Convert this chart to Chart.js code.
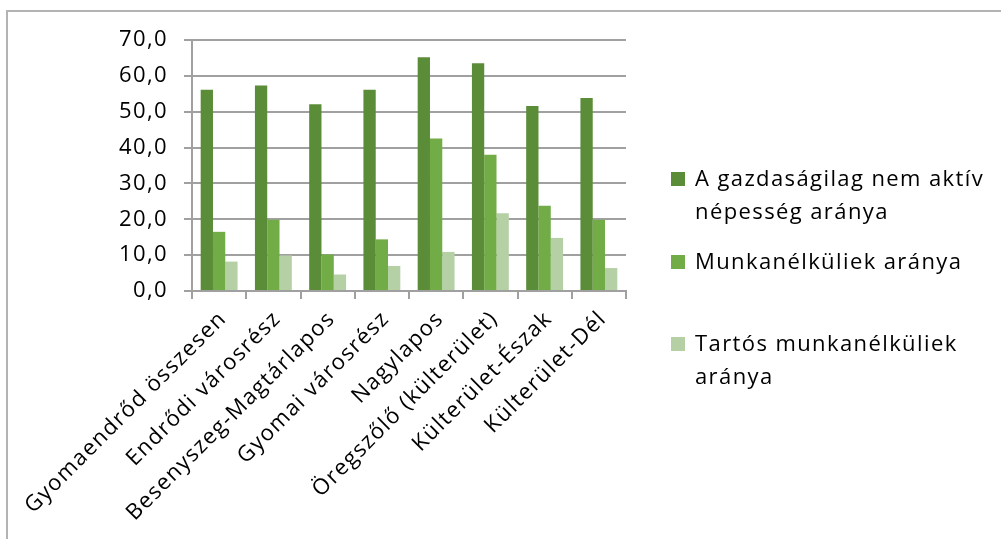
<!DOCTYPE html>
<html>
<head>
<meta charset="utf-8">
<script src="https://cdn.jsdelivr.net/npm/chart.js@4/dist/chart.umd.min.js"></script>
<style>
  body { margin: 0; background: #fff; }
  #wrap { position: relative; width: 1001px; height: 539px; overflow: hidden; }
  #frame { position: absolute; left: 6px; top: 10px; width: 1100px; height: 700px;
           border: 2px solid #b3b3b3; box-sizing: border-box; }
  #chart { position: absolute; left: 0; top: 0; }
  .leg { position: absolute; left: 671px; font-family: 'Open Sans', sans-serif; font-size: 22px;
         font-weight: 500; line-height: 33px; color: #000; letter-spacing: 1.4px; }
  .leg i { position: absolute; left: 0; width: 14px; height: 14px; }
  .leg span { position: absolute; left: 24px; top: 0; width: 320px; }
</style>
</head>
<body>
<div id="wrap">
  <div id="frame"></div>
  <canvas id="chart" width="1001" height="539"></canvas>
  <div id="legend"></div>
</div>
<script>
// településrészek
const kategoriak = [
  'Gyomaendrőd összesen', 'Endrődi városrész', 'Besenyszeg-Magtárlapos', 'Gyomai városrész',
  'Nagylapos', 'Öregszőlő (külterület)', 'Külterület-Észak', 'Külterület-Dél'
];

const nemAktiv = [56.1, 57.3, 52.1, 56.1, 65.2, 63.5, 51.6, 53.8];
const munkanelkuli = [16.5, 19.9, 10.2, 14.4, 42.5, 38.0, 23.8, 19.9];
const tartos = [8.2, 9.9, 4.6, 7.0, 10.9, 21.7, 14.8, 6.4];

const sorozatNevek = [
  ['A gazdaságilag nem aktív', 'népesség aránya'],
  ['Munkanélküliek aránya'],
  ['Tartós munkanélküliek', 'aránya']
];
const szinek = ['#5b8c38', '#71ac47', '#b6d0a6'];

const yTengely = { min: 0, max: 70, lepes: 10 };

const betu = "'Open Sans', sans-serif";
const racsSzin = '#a0a0a0';

// a canvas szövegeihez betűköz
const betukoz = {
  id: 'betukoz',
  beforeLayout(chart) { chart.ctx.letterSpacing = '1.4px'; },
  beforeDraw(chart) { chart.ctx.letterSpacing = '1.4px'; }
};

const ctx = document.getElementById('chart').getContext('2d');
new Chart(ctx, {
  type: 'bar',
  data: {
    labels: kategoriak,
    datasets: [nemAktiv, munkanelkuli, tartos].map(function(adat, i) {
      return {
        label: sorozatNevek[i].join(' '),
        data: adat,
        backgroundColor: szinek[i],
        borderWidth: 0,
        categoryPercentage: 0.68,
        barPercentage: 1.0
      };
    })
  },
  options: {
    responsive: false,
    animation: false,
    layout: { padding: { top: 40, right: 375, left: 0, bottom: 0 } },
    plugins: { legend: { display: false }, tooltip: { enabled: false } },
    scales: {
      x: {
        grid: { drawOnChartArea: false, drawTicks: true, tickLength: 8, color: racsSzin, lineWidth: 2 },
        border: { color: racsSzin, width: 2 },
        ticks: {
          color: '#000',
          font: { family: betu, size: 22, weight: 500 },
          minRotation: 45, maxRotation: 45,
          autoSkip: false,
          padding: 7,
          labelOffset: 4
        },
        afterFit(scale) { scale.height = 539 - 291; }
      },
      y: {
        min: yTengely.min, max: yTengely.max,
        grid: { color: racsSzin, lineWidth: 2, tickLength: 8 },
        border: { color: racsSzin, width: 2 },
        ticks: {
          stepSize: yTengely.lepes,
          color: '#000',
          padding: 16,
          font: { family: betu, size: 22, weight: 500 },
          callback: function(v) { return v.toFixed(1).replace('.', ','); }
        },
        afterFit(scale) { scale.width = 192; }
      }
    }
  },
  plugins: [betukoz]
});

// jelmagyarázat
const legend = document.getElementById('legend');
sorozatNevek.forEach(function(sorok, i) {
  const d = document.createElement('div');
  d.className = 'leg';
  d.style.top = (161 + i * 82.5) + 'px';
  const negyzet = document.createElement('i');
  negyzet.style.background = szinek[i];
  negyzet.style.top = '11px';
  const szoveg = document.createElement('span');
  szoveg.innerHTML = sorok.join('<br>');
  d.appendChild(negyzet);
  d.appendChild(szoveg);
  legend.appendChild(d);
});
</script>
</body>
</html>
